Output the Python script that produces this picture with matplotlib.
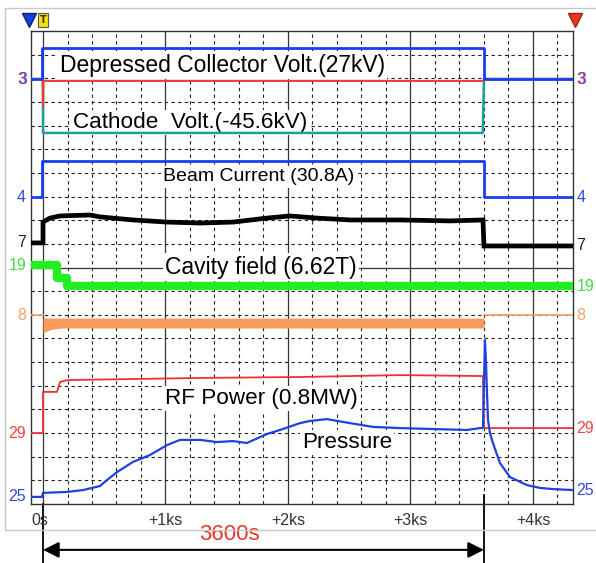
import matplotlib
matplotlib.use("Agg")
import matplotlib.pyplot as plt
import matplotlib.transforms as mtransforms
from matplotlib.patches import Rectangle

# time in seconds, levels in screen divisions (0 = bottom, 20 = top)
t_min, t_max = -98, 4327

dc_t = [-98, -8, -8, 3600, 3600, 4327]
dc_v = [17.97, 17.97, 19.28, 19.28, 17.97, 17.97]

dcred_t = [-98, -6, -3, 0, 3, 3600, 3600, 4327]
dcred_v = [17.97, 17.97, 17.89, 16.79, 17.89, 17.89, 17.97, 17.97]

cath_t = [-98, 0, 0, 3590, 3600, 4327]
cath_v = [17.97, 17.97, 15.69, 15.69, 17.97, 17.97]

beam_t = [-98, -8, -8, 3600, 3600, 4327]
beam_v = [12.98, 12.98, 14.5, 14.5, 12.98, 12.98]

black_t = [-98, 0, 0, 57, 139, 384, 465, 735, 1012, 1282, 1551, 1829, 2016,
           2237, 2506, 2914, 3322, 3592, 3600, 4327]
black_v = [11.04, 11.04, 11.92, 12.09, 12.18, 12.22, 12.14, 12.01, 11.92, 11.88,
           11.92, 12.09, 12.18, 12.09, 12.01, 12.01, 11.97, 12.01, 10.91, 10.91]

cav_t = [-98, 114, 114, 196, 196, 4327]
cav_v = [10.1, 10.1, 9.56, 9.56, 9.2, 9.2]

orange_t = [-98, 0]
orange_v = [7.99, 7.99]
oband_t = [0, 60, 150, 3600]
oband_top = [7.86, 7.86, 7.86, 7.86]
oband_bot = [7.23, 7.38, 7.44, 7.44]
oafter_t = [3600, 4327]
oafter_v = [7.99, 7.99]

rf_t = [-98, 0, 0, 114, 139, 200, 1282, 2098, 2914, 3592, 3600, 4327]
rf_v = [3.0, 3.0, 4.74, 4.74, 5.16, 5.24, 5.33, 5.37, 5.45, 5.41, 3.21, 3.21]

pr_t = [-98, -8, 0, 196, 327, 465, 522, 604, 735, 873, 1012, 1118, 1282, 1420,
        1551, 1665, 1829, 1959, 2098, 2180, 2318, 2506, 2694, 2914, 3184, 3461,
        3567, 3592, 3608, 3616, 3624, 3633, 3649, 3673, 3731, 3812, 3951, 4057,
        4163, 4327]
pr_v = [0.30, 0.30, 0.47, 0.51, 0.59, 0.76, 1.01, 1.35, 1.78, 2.07, 2.49, 2.71,
        2.71, 2.62, 2.66, 2.58, 2.96, 3.17, 3.42, 3.51, 3.59, 3.42, 3.26, 3.21,
        3.17, 3.13, 3.21, 3.21, 6.93, 6.09, 4.82, 3.55, 3.0, 2.58, 1.73, 1.14,
        0.80, 0.68, 0.63, 0.59]

tick_pos = [-25, 1000, 2000, 3000, 4000]
tick_txt = ["0s", "+1ks", "+2ks", "+3ks", "+4ks"]

left_lab = [("3", 17.97, "#e83030"), ("4", 12.98, "#2a48e0"), ("7", 11.04, "#222222"),
            ("19", 10.1, "#44dd44"), ("8", 7.99, "#f6a06a"), ("29", 3.0, "#f04444"),
            ("25", 0.30, "#3048e0")]
right_lab = [("3", 17.97, "#e83030"), ("4", 12.98, "#2a48e0"), ("7", 10.91, "#222222"),
             ("19", 9.2, "#44dd44"), ("8", 7.99, "#f6a06a"), ("29", 3.21, "#f04444"),
             ("25", 0.59, "#3048e0")]

W, H = 596, 563
fig = plt.figure(figsize=(W / 100, H / 100), dpi=100)
fig.patches.append(Rectangle((5 / W, (H - 530) / H), 1.0, (530 - 8) / H,
                             transform=fig.transFigure, fill=False,
                             edgecolor="#c8c8c8", lw=1.0))
ax = fig.add_axes([31 / W, (H - 504) / H, 542 / W, 473 / H])
ax.set_xlim(t_min, t_max)
ax.set_ylim(0, 20)
ax.set_xticks([])
ax.set_yticks([])
for s in ax.spines.values():
    s.set_color("#333333")
    s.set_linewidth(1.0)

# graticule
for t in range(200, 4300, 200):
    if t % 1000 == 0:
        ax.axvline(t, color="#333333", lw=0.9, zorder=1)
    else:
        ax.axvline(t, color="#222222", lw=0.8, dashes=(3, 3), zorder=1)
ax.axvline(0, color="#333333", lw=0.9, zorder=1)
for d in range(1, 20):
    if d == 10:
        ax.axhline(d, color="#333333", lw=0.9, zorder=1)
    else:
        ax.axhline(d, color="#222222", lw=0.8, dashes=(3, 3), zorder=1)

# labels inside the screen
tf = dict(family=["Liberation Sans", "DejaVu Sans"], color="black",
          va="center", ha="left", zorder=2,
          bbox=dict(facecolor="white", edgecolor="none", pad=1.5))
ax.text(139, 18.56, "Depressed Collector Volt.(27kV)", fontsize=16.5, **tf)
ax.text(245, 16.15, "Cathode  Volt.(-45.6kV)", fontsize=16.2, **tf)
ax.text(980, 13.83, "Beam Current (30.8A)", fontsize=14, **tf)
ax.text(996, 10.02, "Cavity field (6.62T)", fontsize=16.5, **tf)
ax.text(996, 4.48, "RF Power (0.8MW)", fontsize=16.2, **tf)
ax.text(2114, 2.62, "Pressure", fontsize=16.2, **tf)

# traces
ax.plot(cath_t, cath_v, color="#1f9e9a", lw=1.8, zorder=3)
ax.plot(dcred_t, dcred_v, color="#f03a3a", lw=1.5, zorder=4)
ax.plot(dc_t, dc_v, color="#1c3cf0", lw=2.0, zorder=4)
ax.plot(beam_t, beam_v, color="#1c3cf0", lw=2.0, zorder=4)
ax.plot(black_t, black_v, color="black", lw=3.4, zorder=4, solid_joinstyle="miter")
ax.plot(cav_t, cav_v, color="#22ee22", lw=6.0, zorder=4, solid_capstyle="butt")
ax.plot(orange_t, orange_v, color="#f6a06a", lw=1.2, zorder=4)
ax.fill_between(oband_t, oband_bot, oband_top, color="#f79a5c", lw=0, zorder=4)
ax.plot(oafter_t, oafter_v, color="#f6a06a", lw=1.2, zorder=4)
ax.plot(rf_t, rf_v, color="#f03030", lw=1.3, zorder=5)
ax.plot(pr_t, pr_v, color="#2040e0", lw=1.6, zorder=5)

# channel markers
bl = mtransforms.blended_transform_factory(ax.transAxes, ax.transData)
cf = dict(family=["Liberation Sans", "DejaVu Sans"], fontsize=11.5, va="center")
for txt, y, c in left_lab:
    ax.text(-0.009, y, txt, transform=bl, ha="right", color=c, clip_on=False, **cf)
for txt, y, c in right_lab:
    ax.text(1.006, y, txt, transform=bl, ha="left", color=c, clip_on=False, **cf)
ax.text(-0.0075, 17.97, "3", transform=bl, ha="right", color="#3a4ae0", clip_on=False, **cf)
ax.text(1.0075, 17.97, "3", transform=bl, ha="left", color="#5a4ae0", clip_on=False, **cf)

# time labels
bx = mtransforms.blended_transform_factory(ax.transData, ax.transAxes)
for t, txt in zip(tick_pos, tick_txt):
    ax.text(t, -0.034, txt, transform=bx, ha="center", va="center",
            family=["Liberation Sans", "DejaVu Sans"], fontsize=11.5, color="#333333")

# top markers
ax.plot([-0.003], [1.023], marker="v", ms=10, color="#1a3fe0", mec="#10206a",
        transform=ax.transAxes, clip_on=False)
ax.text(0.023, 1.023, "T", transform=ax.transAxes, ha="center", va="center",
        fontsize=7, fontweight="bold", color="#333333",
        bbox=dict(facecolor="#f2e400", edgecolor="#555555", pad=1.2, lw=0.8))
ax.plot([1.0037], [1.023], marker="v", ms=10, color="#e83a1a", mec="#a02010",
        transform=ax.transAxes, clip_on=False)

# 3600 s span annotation
ax.plot([0, 0], [0, -0.13], color="black", lw=1.3, transform=bx, clip_on=False)
ax.plot([3600, 3600], [0.019, -0.13], color="black", lw=1.3, transform=bx, clip_on=False)
ax.annotate("", xy=(0, -0.097), xytext=(3600, -0.097), xycoords=bx, textcoords=bx,
            arrowprops=dict(arrowstyle="<|-|>", color="black", lw=1.5,
                            mutation_scale=24, shrinkA=0, shrinkB=0))
ax.text(1518, -0.0655, "3600s", transform=bx, ha="center", va="center",
        family=["Liberation Sans", "DejaVu Sans"], fontsize=16, color="#e8332a")

fig.savefig("out.png", dpi=100)
